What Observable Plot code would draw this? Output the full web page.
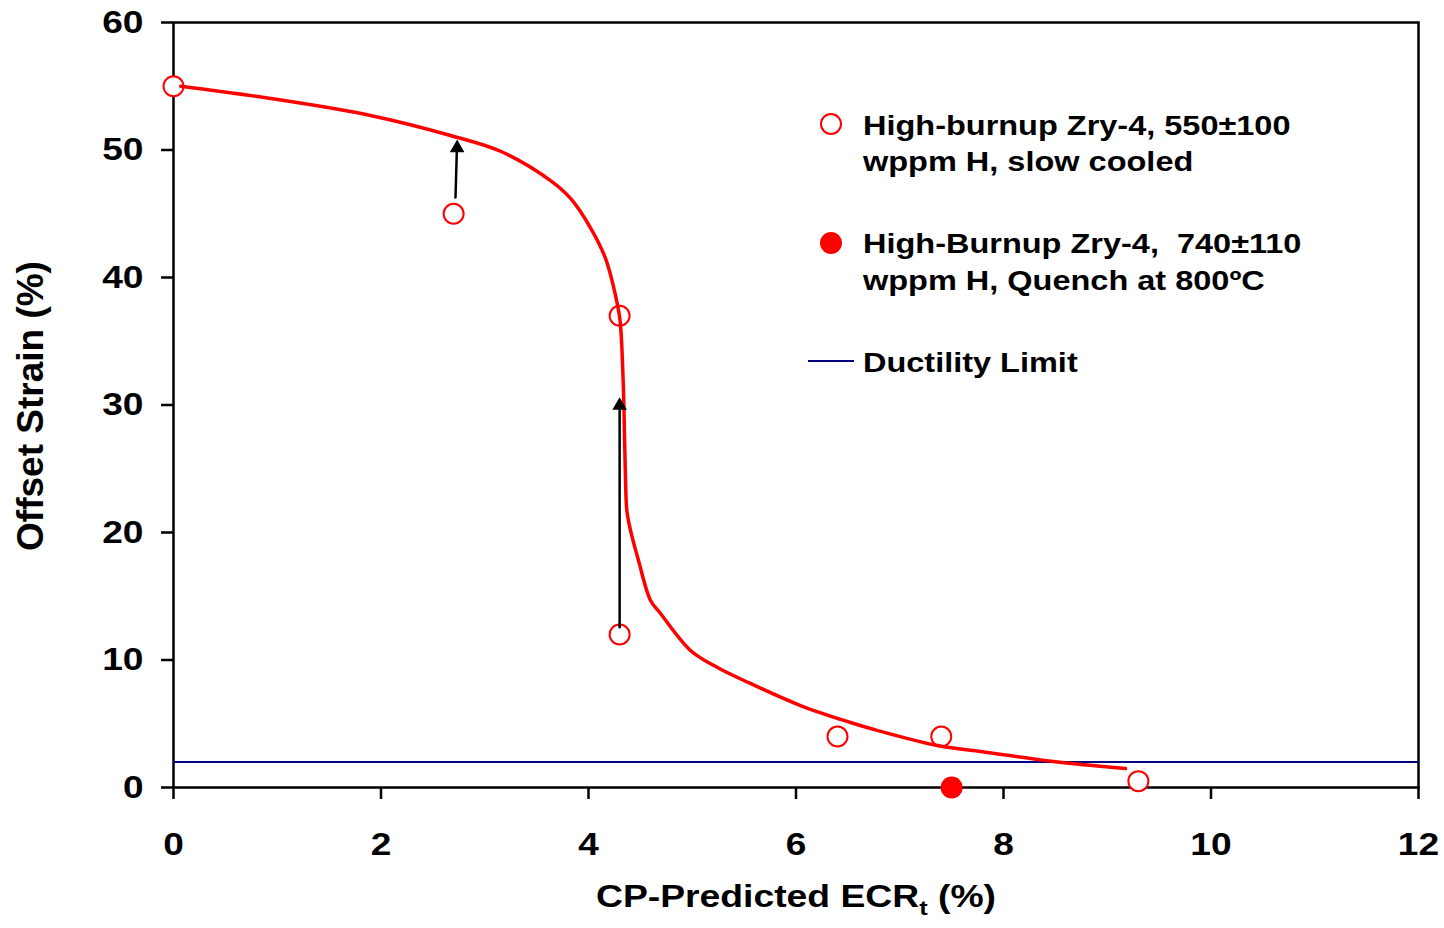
<!DOCTYPE html>
<html>
<head>
<meta charset="utf-8">
<script src="https://cdn.jsdelivr.net/npm/d3@7"></script>
<script src="https://cdn.jsdelivr.net/npm/@observablehq/plot@0.6"></script>
<style>
  body { margin: 0; background: #ffffff; }
  #chart svg { display: block; }
</style>
</head>
<body>
<div id="chart"></div>
<script>
// ---- Data ----
const xTicks = [0, 2, 4, 6, 8, 10, 12];
const yTicks = [0, 10, 20, 30, 40, 50, 60];

// High-burnup Zry-4, 550±100 wppm H, slow cooled (open circles)
const slowX = [0, 2.7, 4.3, 4.3, 6.4, 7.4, 9.3];
const slowY = [55, 45, 37, 12, 4, 4, 0.5];

// High-Burnup Zry-4, 740±110 wppm H, Quench at 800ºC (filled circle)
const quenchX = [7.5];
const quenchY = [0];

// Ductility limit
const limitY = [2];

// Fitted trend curve
const fitX = [0.07, 0.935, 1.899, 2.670, 3.152, 3.634, 3.827, 4.019, 4.164, 4.260, 4.304, 4.334, 4.340, 4.357, 4.370, 4.405, 4.482, 4.598, 4.694, 4.983, 5.243, 5.561, 6.043, 6.525, 6.718, 7.364, 7.846, 8.482, 9.176];
const fitY = [55.0, 54.04, 52.71, 51.14, 49.9, 47.6, 46.2, 43.9, 41.5, 38.6, 36.63, 31.92, 30.35, 24.08, 21.7, 20.16, 17.8, 14.67, 13.65, 10.75, 9.41, 8.16, 6.43, 5.10, 4.63, 3.29, 2.75, 2.04, 1.49];

// Arrows (start -> tip)
const arrowX1 = [2.718, 4.3];
const arrowY1 = [46.27, 12.57];
const arrowX2 = [2.734, 4.3];
const arrowY2 = [50.82, 30.61];

const legendLines = [
  ["High-burnup Zry-4, 550±100", "wppm H, slow cooled"],
  ["High-Burnup Zry-4,  740±110", "wppm H, Quench at 800ºC"],
  ["Ductility Limit"]
];
const xTitleMain = "CP-Predicted ECR";
const xTitleSub = "t";
const xTitleEnd = " (%)";
const yTitle = "Offset Strain (%)";

// ---- Build tables ----
const slow = slowX.map((x, i) => ({x, y: slowY[i]}));
const quench = quenchX.map((x, i) => ({x, y: quenchY[i]}));
const fit = fitX.map((x, i) => ({x, y: fitY[i]}));
const arrows = arrowX1.map((x, i) => ({x1: x, y1: arrowY1[i], x2: arrowX2[i], y2: arrowY2[i]}));

const RED = "#ff0000";
const NAVY = "#000080";
const FONT = '"Liberation Sans", Arial, Helvetica, sans-serif';

const plot = Plot.plot({
  width: 1444,
  height: 928,
  marginLeft: 173,
  marginRight: 26,
  marginTop: 22,
  marginBottom: 141,
  style: {fontFamily: FONT, fontWeight: "bold", fontSize: "32px", color: "black", background: "white", overflow: "visible"},
  x: {domain: [0, 12], label: null},
  y: {domain: [0, 60], label: null},
  marks: [
    Plot.frame({stroke: "black", strokeWidth: 2.5}),
    Plot.axisX({ticks: xTicks, tickFormat: d => String(d), tickSize: 12, tickPadding: 33, strokeWidth: 2.5, fontSize: 32, label: null}),
    Plot.axisY({ticks: yTicks, tickFormat: d => String(d), tickSize: 12, tickPadding: 18, strokeWidth: 2.5, fontSize: 32, label: null}),
    Plot.ruleY(limitY, {stroke: NAVY, strokeWidth: 2}),
    Plot.dot(slow, {x: "x", y: "y", r: 10, stroke: RED, strokeWidth: 2, fill: "white"}),
    Plot.dot(quench, {x: "x", y: "y", r: 11, fill: RED, stroke: "none"}),
    Plot.line(fit, {x: "x", y: "y", stroke: RED, strokeWidth: 3.5, curve: "catmull-rom"}),
    Plot.arrow(arrows, {x1: "x1", y1: "y1", x2: "x2", y2: "y2", stroke: "black", strokeWidth: 2.5, headLength: 0, insetEnd: 11}),
    Plot.dot(arrows, {x: "x2", y: "y2", symbol: "triangle", r: 5.4, fill: "black", stroke: "none", dy: 8.4})
  ]
});

document.getElementById("chart").append(plot);
const svg = d3.select(plot);

function stretch(el, factor) {
  const L = el.getComputedTextLength();
  el.setAttribute("textLength", (L * factor).toFixed(1));
  el.setAttribute("lengthAdjust", "spacingAndGlyphs");
}

// widen tick labels to match the reference lettering
svg.selectAll('g[aria-label="x-axis tick label"] text, g[aria-label="y-axis tick label"] text')
  .each(function() { stretch(this, 1.16); });

// ---- Legend ----
const lg = svg.append("g")
  .attr("font-family", FONT).attr("font-weight", "bold").attr("font-size", 28)
  .attr("fill", "black").attr("text-anchor", "start");
lg.append("circle").attr("cx", 831).attr("cy", 124).attr("r", 10)
  .attr("fill", "white").attr("stroke", RED).attr("stroke-width", 2);
lg.append("circle").attr("cx", 831).attr("cy", 243).attr("r", 11).attr("fill", RED);
lg.append("line").attr("x1", 808).attr("x2", 854).attr("y1", 361).attr("y2", 361)
  .attr("stroke", NAVY).attr("stroke-width", 2);
const baselines = [[135, 171], [253, 290], [372]];
legendLines.forEach((lines, i) => {
  lines.forEach((t, j) => {
    const el = lg.append("text").attr("x", 863).attr("y", baselines[i][j])
      .attr("text-anchor", "start")
      .attr("xml:space", "preserve").style("white-space", "pre").text(t);
    stretch(el.node(), 1.16);
  });
});

// ---- Axis titles ----
const xt = svg.append("text")
  .attr("x", 796).attr("y", 907).attr("text-anchor", "middle")
  .attr("font-family", FONT).attr("font-weight", "bold").attr("font-size", 31).attr("fill", "black");
xt.append("tspan").text(xTitleMain);
xt.append("tspan").attr("font-size", 21).attr("dy", 8).text(xTitleSub);
xt.append("tspan").attr("dy", -8).style("white-space", "pre").text(xTitleEnd);
xt.attr("textLength", 400).attr("lengthAdjust", "spacingAndGlyphs");

svg.append("text")
  .attr("transform", "translate(43,406) rotate(-90)")
  .attr("text-anchor", "middle")
  .attr("font-family", FONT).attr("font-weight", "bold").attr("font-size", 37).attr("fill", "black")
  .text(yTitle);
</script>
</body>
</html>
